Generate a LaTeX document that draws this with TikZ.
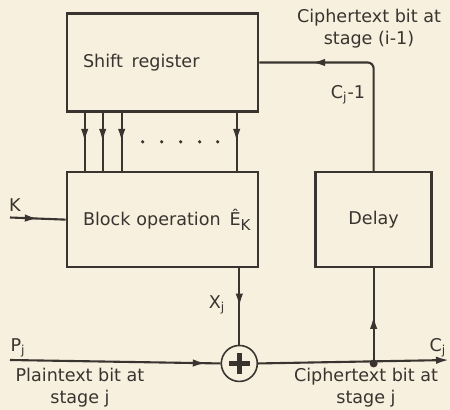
\documentclass[tikz,border=0pt]{standalone}
\usepackage{fontspec}
\setmainfont{DejaVu Sans}
\usepackage{tikz}
\usetikzlibrary{arrows.meta,positioning,calc,decorations.markings}
\definecolor{paper}{HTML}{F7F0DE}
\definecolor{ink}{HTML}{3A3430}

\begin{document}
\begin{tikzpicture}[
    font=\fontsize{10}{12.5}\selectfont,
    color=ink,
    line width=1.2pt,
    block/.style={draw, line width=1.5pt, minimum height=1.9cm},
    wideblock/.style={block, text width=3.18cm, inner xsep=0.32cm, align=left},
    xorgate/.style={circle, draw, line width=0.9pt, minimum size=0.72cm, inner sep=0pt},
    flow/.style={postaction={decorate}, decoration={markings, mark=at position #1 with {\arrow{Latex[length=2.6mm,width=1.5mm]}}}},
    flow/.default=0.5,
    lbl/.style={inner sep=0pt, align=center}
]
    \fill[paper] (0,0) rectangle (9,-8.2);
    \useasboundingbox (0,0) rectangle (9,-8.2);

    \node[wideblock, minimum height=1.96cm] (shift) at (3.25,-1.25) {Shift\enspace register};
    \node[wideblock, below=1.16cm of shift] (cipher) {\mbox{Block operation\enspace\^E\raisebox{-0.55ex}{\fontsize{8.5}{10}\selectfont K}}};
    \node[block, minimum width=2.32cm, right=1.1cm of cipher] (delay) {Delay};
    \node[xorgate] (xor) at ($(cipher.south east)+(-0.4,-1.9)$) {};
    \draw[line width=2.6pt] ($(xor.center)+(-0.21,0)$) -- ($(xor.center)+(0.21,0)$);
    \draw[line width=2.6pt] ($(xor.center)+(0,-0.21)$) -- ($(xor.center)+(0,0.21)$);

    \coordinate (kin) at (0.2,-4.35);
    \coordinate (pin) at (0.2,-7.2);
    \coordinate (cout) at (8.98,-7.2);
    \coordinate (tap) at (delay.south |- xor);

    % register taps into the block operation
    \foreach \dx in {0.38,0.74,1.12,3.42}
        \draw[flow] ($(shift.south west)+(\dx,0)$) -- ($(cipher.north west)+(\dx,0)$);
    \foreach \dx in {1.54,1.92,2.3,2.68,3.04}
        \fill ($(shift.south west)!0.5!(cipher.north west)+(\dx,0)$) circle (1pt);

    \draw[flow] (kin) -- (cipher.west);
    \draw[flow] (cipher.south -| xor) -- (xor.north);
    \draw[flow=0.93] (pin) -- (xor.west);
    \draw[-{Latex[length=2.6mm,width=1.5mm]}] (xor.east) -- (cout);
    \fill (tap) circle (0.08);
    \draw[flow] (tap) -- (delay.south);
    \draw[flow=0.76, rounded corners=0.12cm] (delay.north) |- (shift.east);

    \node[lbl] (toplbl) at (7.38,-0.57) {Ciphertext bit at\\stage (i-1)};
    \node[lbl] (prevlbl) at (6.96,-1.9) {C\textsubscript{j}-1};
    \node[lbl] (klbl) at (0.3,-4.1) {K};
    \node[lbl] (xlbl) at (4.34,-6.1) {X\textsubscript{j}};
    \node[lbl] (plbl) at (0.36,-6.96) {P\textsubscript{j}};
    \node[lbl] (clbl) at (8.76,-6.96) {C\textsubscript{j}};
    \node[lbl] (plainlbl) at (1.6,-7.76) {Plaintext bit at\\stage j};
    \node[lbl] (outlbl) at (7.32,-7.76) {Ciphertext bit at\\stage j};
\end{tikzpicture}
\end{document}
